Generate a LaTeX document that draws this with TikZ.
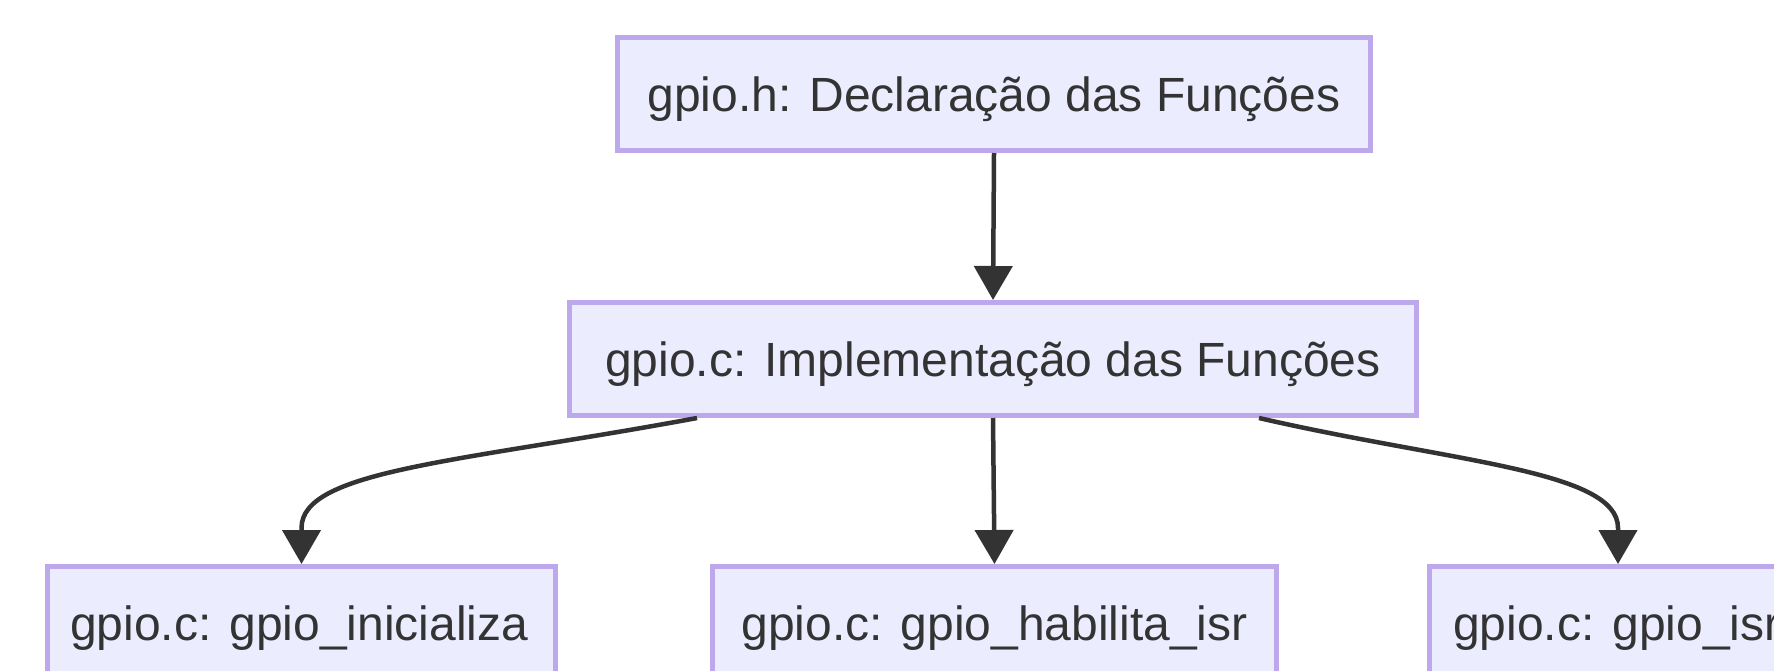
\documentclass[tikz,border=0pt]{standalone}
\usepackage{fontspec}
\setmainfont{Liberation Sans}
\usetikzlibrary{arrows.meta,calc}
\definecolor{boxfill}{HTML}{ECECFF}
\definecolor{boxline}{HTML}{BCA8EA}
\definecolor{ink}{HTML}{333333}
\begin{document}
\begin{tikzpicture}[x=1pt,y=1pt,
  box/.style={draw=boxline, line width=5pt, fill=boxfill, rectangle,
    minimum height=113pt, inner sep=0pt, text height=34pt, text depth=0pt,
    text=ink, font=\fontsize{48}{58}\selectfont},
  lbl/.style={anchor=base west, inner sep=0pt, text=ink, font=\fontsize{48}{58}\selectfont},
  conn/.style={draw=ink, line width=4.5pt, -{Triangle[length=34pt,width=38pt]}}]
\useasboundingbox (0,0) rectangle (1774,-670);
\clip (0,0) rectangle (1774,-670);
\fill[white] (0,0) rectangle (1774,-670);

\node[box, minimum width=753pt] (a) at (994,-94) {gpio.h: Declaração das Funções};
\node[box, minimum width=847pt] (b) at (993,-359) {gpio.c: Implementação das Funções};
\node[box, minimum width=508pt] (c1) at (301.5,-623) {};
\node[box, minimum width=564pt] (c2) at (994.5,-623) {gpio.c: gpio\_habilita\_isr};
\node[box, minimum width=377pt] (c3) at (1618,-623) {};

\begin{scope}
  \clip (48,-566) rectangle (533,-680);
  \node[lbl] (t1) at (70,-640) {gpio.c: gpio\_inicializa};
\end{scope}
\node[lbl] (t3) at (1453,-640) {gpio.c: gpio\_isr};

\coordinate (s1) at ($(b.south)+(-296,0)$);
\coordinate (s3) at ($(b.south)+(266,0)$);
\coordinate (e1) at ($(c1.north)+(0,36)$);
\coordinate (e3) at ($(c3.north)+(0,36)$);

\draw[conn] (a.south) -- (b.north);
\draw[conn] (b.south) -- (c2.north);
\draw[conn] (s1) .. controls ($(s1)+(-237,-44)$) and ($(e1)+(0,58)$) .. (e1) -- (c1.north);
\draw[conn] (s3) .. controls ($(s3)+(191,-44)$) and ($(e3)+(0,58)$) .. (e3) -- (c3.north);
\end{tikzpicture}
\end{document}
